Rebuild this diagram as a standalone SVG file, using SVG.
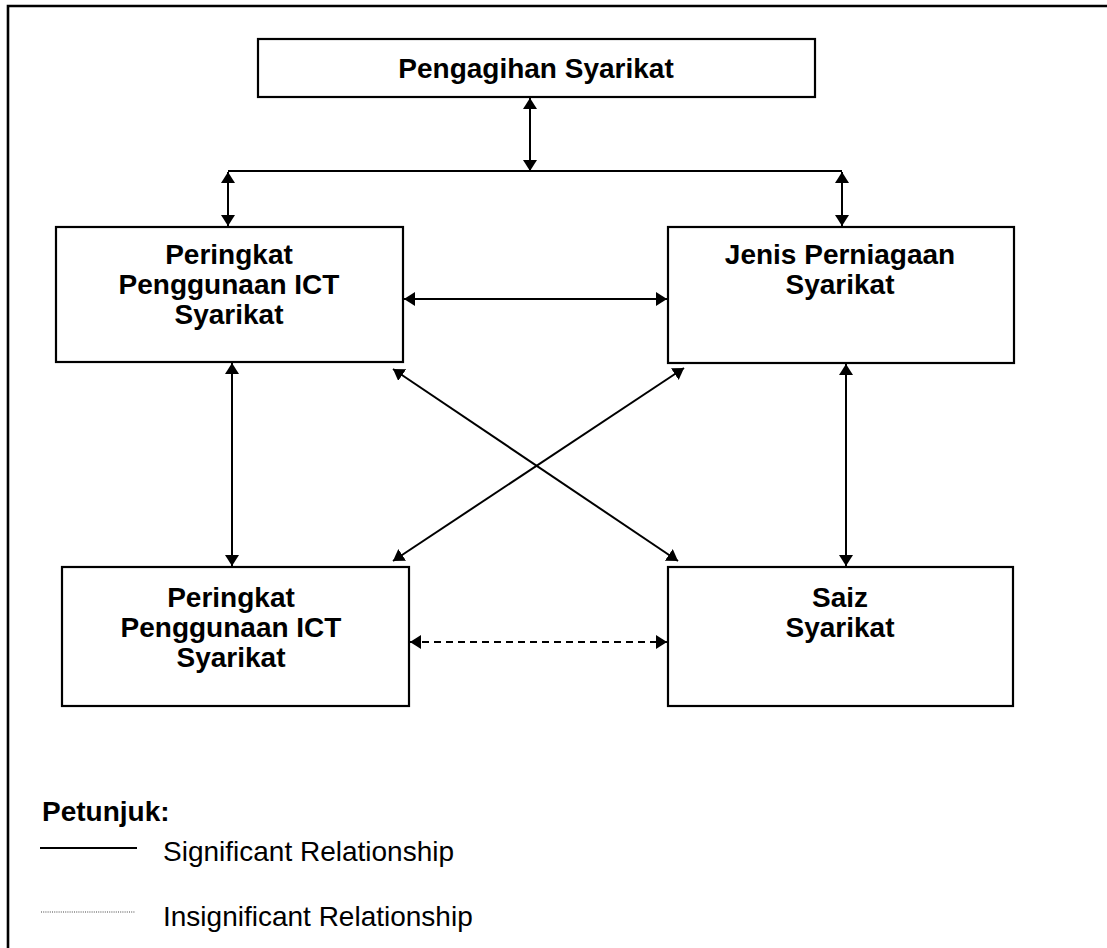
<svg xmlns="http://www.w3.org/2000/svg" width="1107" height="948" viewBox="0 0 1107 948">
  <style>
    .box { fill: #ffffff; stroke: #000000; stroke-width: 2.2; }
    .frame { fill: none; stroke: #000000; stroke-width: 2.6; }
    .label { font-family: "Liberation Sans", Arial, sans-serif; font-weight: bold; font-size: 28px; fill: #000000; text-anchor: middle; }
    .legend-title { font-family: "Liberation Sans", Arial, sans-serif; font-weight: bold; font-size: 28px; fill: #000000; }
    .legend-text { font-family: "Liberation Sans", Arial, sans-serif; font-size: 28px; fill: #000000; }
    .link { fill: none; stroke: #000000; stroke-width: 2; }
    .dashed { stroke-dasharray: 7 5; }
  </style>
  <defs>
    <marker id="arrow" viewBox="0 0 11 14" refX="11" refY="7" markerWidth="11" markerHeight="14" markerUnits="userSpaceOnUse" orient="auto-start-reverse">
      <path d="M0,0 L11,7 L0,14 Z" fill="#000000"/>
    </marker>
  </defs>

  <rect width="1107" height="948" fill="#ffffff"/>

  <!-- outer frame (left and top edges) -->
  <path class="frame" d="M8,948 L8,6 L1107,6"/>

  <!-- nodes -->
  <g id="node-pengagihan">
    <rect class="box" x="258" y="39" width="557" height="58"/>
    <text class="label" x="536" y="78">Pengagihan Syarikat</text>
  </g>
  <g id="node-ict-top">
    <rect class="box" x="56" y="227" width="347" height="135"/>
    <text class="label" x="229" y="264">Peringkat</text>
    <text class="label" x="229" y="294">Penggunaan ICT</text>
    <text class="label" x="229" y="324">Syarikat</text>
  </g>
  <g id="node-jenis">
    <rect class="box" x="668" y="227" width="346" height="136"/>
    <text class="label" x="840" y="264">Jenis Perniagaan</text>
    <text class="label" x="840" y="294">Syarikat</text>
  </g>
  <g id="node-ict-bottom">
    <rect class="box" x="62" y="567" width="347" height="139"/>
    <text class="label" x="231" y="607">Peringkat</text>
    <text class="label" x="231" y="637">Penggunaan ICT</text>
    <text class="label" x="231" y="667">Syarikat</text>
  </g>
  <g id="node-saiz">
    <rect class="box" x="668" y="567" width="345" height="139"/>
    <text class="label" x="840" y="607">Saiz</text>
    <text class="label" x="840" y="637">Syarikat</text>
  </g>

  <!-- connectors -->
  <g id="connectors">
    <line class="link" x1="530" y1="171" x2="530" y2="98" marker-start="url(#arrow)" marker-end="url(#arrow)"/>
    <line class="link" x1="228" y1="171" x2="842" y2="171"/>
    <line class="link" x1="228" y1="172" x2="228" y2="226" marker-start="url(#arrow)" marker-end="url(#arrow)"/>
    <line class="link" x1="842" y1="172" x2="842" y2="226" marker-start="url(#arrow)" marker-end="url(#arrow)"/>
    <line class="link" x1="404" y1="299" x2="667" y2="299" marker-start="url(#arrow)" marker-end="url(#arrow)"/>
    <line class="link" x1="232" y1="363" x2="232" y2="566" marker-start="url(#arrow)" marker-end="url(#arrow)"/>
    <line class="link" x1="846" y1="364" x2="846" y2="566" marker-start="url(#arrow)" marker-end="url(#arrow)"/>
    <line class="link" x1="393" y1="369" x2="678" y2="561" marker-start="url(#arrow)" marker-end="url(#arrow)"/>
    <line class="link" x1="684" y1="368" x2="393" y2="561" marker-start="url(#arrow)" marker-end="url(#arrow)"/>
    <line class="link dashed" x1="410" y1="642" x2="667" y2="642" marker-start="url(#arrow)" marker-end="url(#arrow)"/>
  </g>

  <!-- legend -->
  <g id="legend">
    <text class="legend-title" x="42" y="821">Petunjuk:</text>
    <line x1="40" y1="848" x2="137" y2="848" stroke="#000000" stroke-width="2"/>
    <text class="legend-text" x="163" y="861">Significant Relationship</text>
    <line x1="41" y1="912" x2="135" y2="912" stroke="#444444" stroke-width="1.2" stroke-dasharray="1 1.2"/>
    <text class="legend-text" x="163" y="926">Insignificant Relationship</text>
  </g>
</svg>
